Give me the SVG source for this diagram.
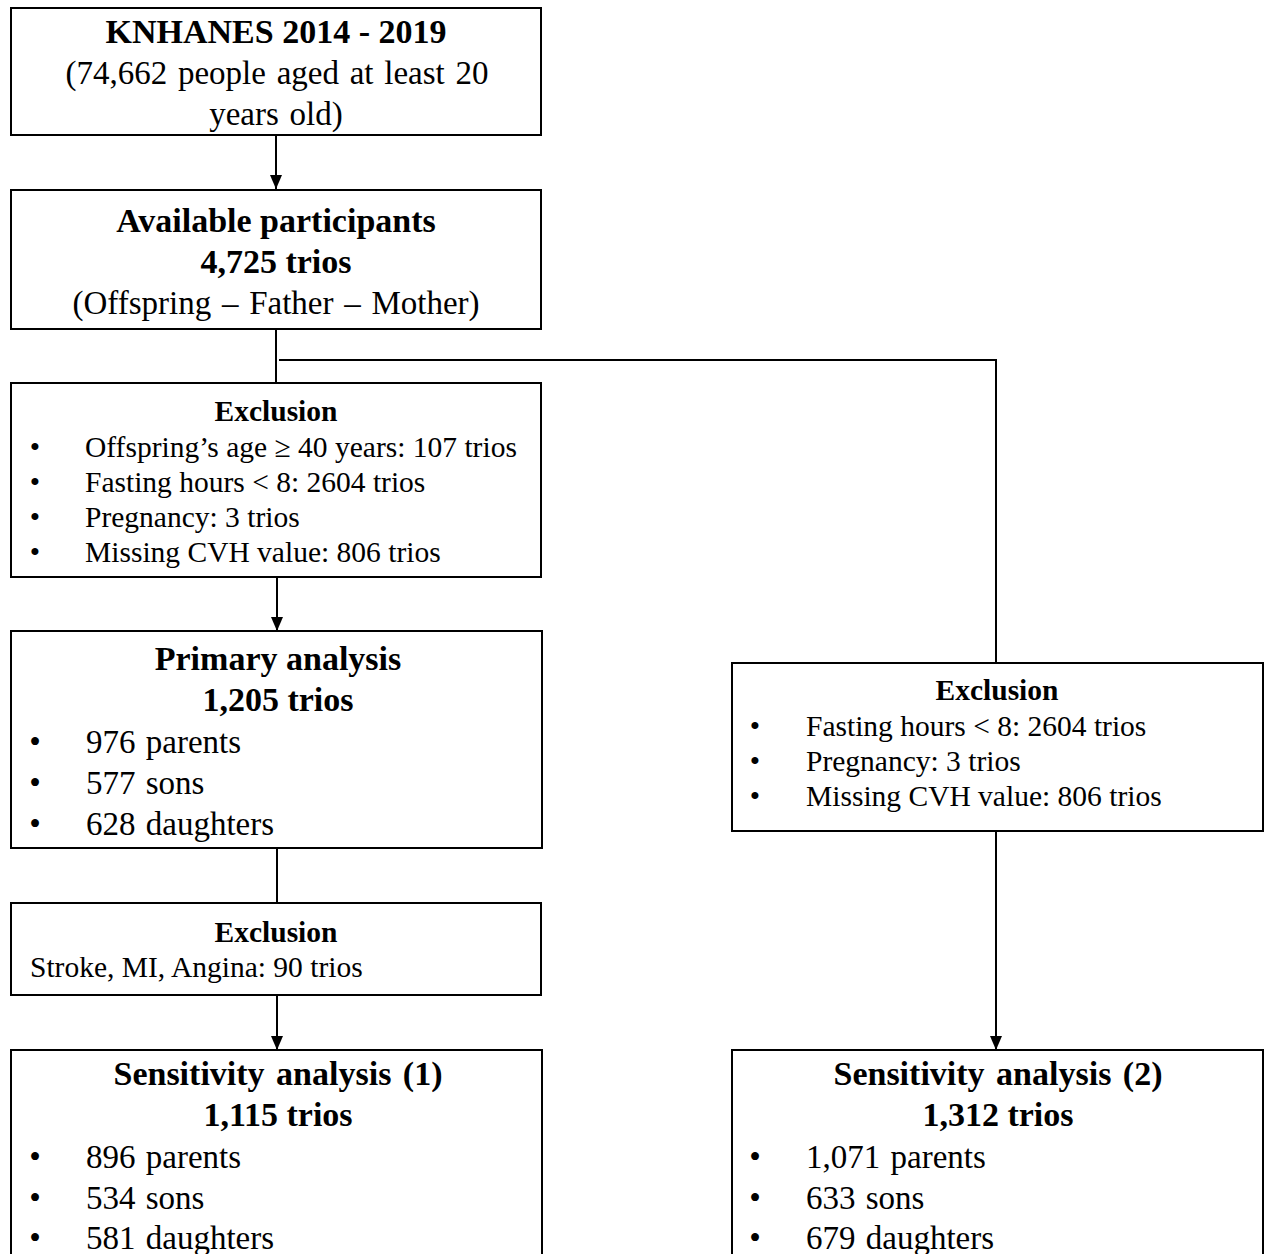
<svg xmlns="http://www.w3.org/2000/svg" width="1271" height="1254" viewBox="0 0 1271 1254">
<style>
.box{fill:#fff;stroke:#000;stroke-width:2}
.ln{fill:none;stroke:#000;stroke-width:2}
text{font-family:"Liberation Serif","Times New Roman",serif;fill:#000}
.big{font-size:33px}
.bb{font-size:34px;font-weight:bold}
.sm{font-size:29.5px}
.b{font-weight:bold}
.c{text-anchor:middle}
</style>
<defs>
<marker id="arr" markerWidth="14" markerHeight="12" refX="14" refY="6" orient="auto" markerUnits="userSpaceOnUse" viewBox="0 0 14 12">
<path d="M0,0 L14,6 L0,12 z" fill="#000"/>
</marker>
</defs>
<rect width="1271" height="1254" fill="#fff"/>
<g id="connectors">
<line class="ln" x1="276" y1="135" x2="276" y2="189" marker-end="url(#arr)"/>
<line class="ln" x1="276" y1="329" x2="276" y2="383"/>
<polyline class="ln" points="279,360 996,360 996,663"/>
<line class="ln" x1="277" y1="577" x2="277" y2="631" marker-end="url(#arr)"/>
<line class="ln" x1="277" y1="848" x2="277" y2="903"/>
<line class="ln" x1="277" y1="995" x2="277" y2="1050" marker-end="url(#arr)"/>
<line class="ln" x1="996" y1="831" x2="996" y2="1050" marker-end="url(#arr)"/>
</g>
<g id="n-knhanes">
<rect class="box" x="11" y="8" width="530" height="127"/>
<text class="bb c" x="276" y="43">KNHANES 2014 - 2019</text>
<text class="big c" x="277" y="84" word-spacing="2.5">(74,662 people aged at least 20</text>
<text class="big c" x="276" y="125" word-spacing="2.5">years old)</text>
</g>
<g id="n-available">
<rect class="box" x="11" y="190" width="530" height="139"/>
<text class="bb c" x="276" y="232">Available participants</text>
<text class="bb c" x="276" y="273">4,725 trios</text>
<text class="big c" x="276" y="314" word-spacing="2.5">(Offspring  – Father – Mother)</text>
</g>
<g id="n-exclusion1">
<rect class="box" x="11" y="383" width="530" height="194"/>
<text class="sm b c" x="276" y="421">Exclusion</text>
<text class="sm c" x="35" y="457">•</text>
<text class="sm" x="85" y="457">Offspring’s age ≥ 40 years: 107 trios</text>
<text class="sm c" x="35" y="492">•</text>
<text class="sm" x="85" y="492">Fasting hours &lt; 8: 2604 trios</text>
<text class="sm c" x="35" y="527">•</text>
<text class="sm" x="85" y="527">Pregnancy: 3 trios</text>
<text class="sm c" x="35" y="562">•</text>
<text class="sm" x="85" y="562">Missing CVH value: 806 trios</text>
</g>
<g id="n-primary">
<rect class="box" x="11" y="631" width="531" height="217"/>
<text class="bb c" x="278" y="670">Primary analysis</text>
<text class="bb c" x="278" y="711">1,205 trios</text>
<text class="big c" x="35" y="753">•</text>
<text class="big" x="86" y="753" word-spacing="2">976 parents</text>
<text class="big c" x="35" y="794">•</text>
<text class="big" x="86" y="794" word-spacing="2">577 sons</text>
<text class="big c" x="35" y="835">•</text>
<text class="big" x="86" y="835" word-spacing="2">628 daughters</text>
</g>
<g id="n-exclusion3">
<rect class="box" x="11" y="903" width="530" height="92"/>
<text class="sm b c" x="276" y="942">Exclusion</text>
<text class="sm" x="30" y="977">Stroke, MI, Angina: 90 trios</text>
</g>
<g id="n-sens1">
<rect class="box" x="11" y="1050" width="531" height="230"/>
<text class="bb c" x="278" y="1085" word-spacing="3">Sensitivity analysis (1)</text>
<text class="bb c" x="278" y="1126">1,115 trios</text>
<text class="big c" x="35" y="1168">•</text>
<text class="big" x="86" y="1168" word-spacing="2">896 parents</text>
<text class="big c" x="35" y="1209">•</text>
<text class="big" x="86" y="1209" word-spacing="2">534 sons</text>
<text class="big c" x="35" y="1249">•</text>
<text class="big" x="86" y="1249" word-spacing="2">581 daughters</text>
</g>
<g id="n-exclusion2">
<rect class="box" x="732" y="663" width="531" height="168"/>
<text class="sm b c" x="997" y="700">Exclusion</text>
<text class="sm c" x="755" y="736">•</text>
<text class="sm" x="806" y="736">Fasting hours &lt; 8: 2604 trios</text>
<text class="sm c" x="755" y="771">•</text>
<text class="sm" x="806" y="771">Pregnancy: 3 trios</text>
<text class="sm c" x="755" y="806">•</text>
<text class="sm" x="806" y="806">Missing CVH value: 806 trios</text>
</g>
<g id="n-sens2">
<rect class="box" x="732" y="1050" width="531" height="230"/>
<text class="bb c" x="998" y="1085" word-spacing="3">Sensitivity analysis (2)</text>
<text class="bb c" x="998" y="1126">1,312 trios</text>
<text class="big c" x="755" y="1168">•</text>
<text class="big" x="806" y="1168" word-spacing="2">1,071 parents</text>
<text class="big c" x="755" y="1209">•</text>
<text class="big" x="806" y="1209" word-spacing="2">633 sons</text>
<text class="big c" x="755" y="1249">•</text>
<text class="big" x="806" y="1249" word-spacing="2">679 daughters</text>
</g>
</svg>
